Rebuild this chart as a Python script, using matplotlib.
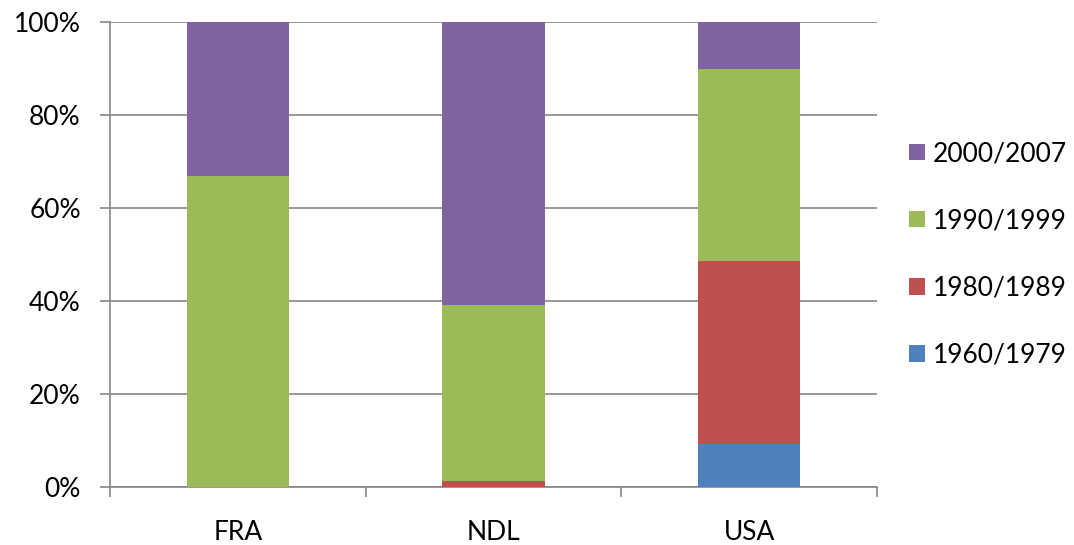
import numpy as np
import matplotlib.pyplot as plt

countries = ["FRA", "NDL", "USA"]
periods = ["1960/1979", "1980/1989", "1990/1999", "2000/2007"]
share_1960_1979 = [0.0, 0.0, 9.1]
share_1980_1989 = [0.0, 1.1, 39.4]
share_1990_1999 = [66.8, 37.9, 41.3]
share_2000_2007 = [33.2, 61.0, 10.2]
colors = ["#4F81BD", "#C0504D", "#9BBB59", "#8064A2"]

plt.rcParams["font.family"] = ["Lato", "DejaVu Sans"]
plt.rcParams["font.size"] = 19

fig = plt.figure(figsize=(10.74, 5.45), dpi=100)
ax = fig.add_axes([0.1024, 0.1073, 0.7142, 0.8523])

x = np.arange(len(countries))
bottom = np.zeros(len(countries))
handles = []
for vals, lab, col in zip([share_1960_1979, share_1980_1989, share_1990_1999, share_2000_2007], periods, colors):
    b = ax.bar(x, vals, width=0.4, bottom=bottom, color=col, label=lab, zorder=3)
    handles.append(b)
    bottom += np.array(vals)

ax.set_xlim(-0.5, 2.5)
ax.set_ylim(0, 100)
ax.set_yticks(range(0, 101, 20))
ax.set_yticklabels([f"{v}%" for v in range(0, 101, 20)])
ax.set_xticks(x)
ax.set_xticklabels(countries)
ax.set_xticks([-0.5, 0.5, 1.5, 2.5], minor=True)

ax.grid(axis="y", color="#868686", linewidth=1.2, zorder=0)
for s in ["top", "right"]:
    ax.spines[s].set_visible(False)
for s in ["left", "bottom"]:
    ax.spines[s].set_color("#868686")
    ax.spines[s].set_linewidth(1.2)

ax.tick_params(axis="y", length=7, width=1.2, color="#868686", pad=14)
ax.tick_params(axis="x", which="major", length=0, pad=24)
ax.tick_params(axis="x", which="minor", length=7, width=1.2, color="#868686")

fig.legend(handles[::-1], periods[::-1], loc="center left",
           bbox_to_anchor=(0.837, 0.533), frameon=False,
           handlelength=0.6, handleheight=0.6, handletextpad=0.3,
           labelspacing=1.6, fontsize=19, borderaxespad=0)

fig.savefig("out.png", dpi=100)
